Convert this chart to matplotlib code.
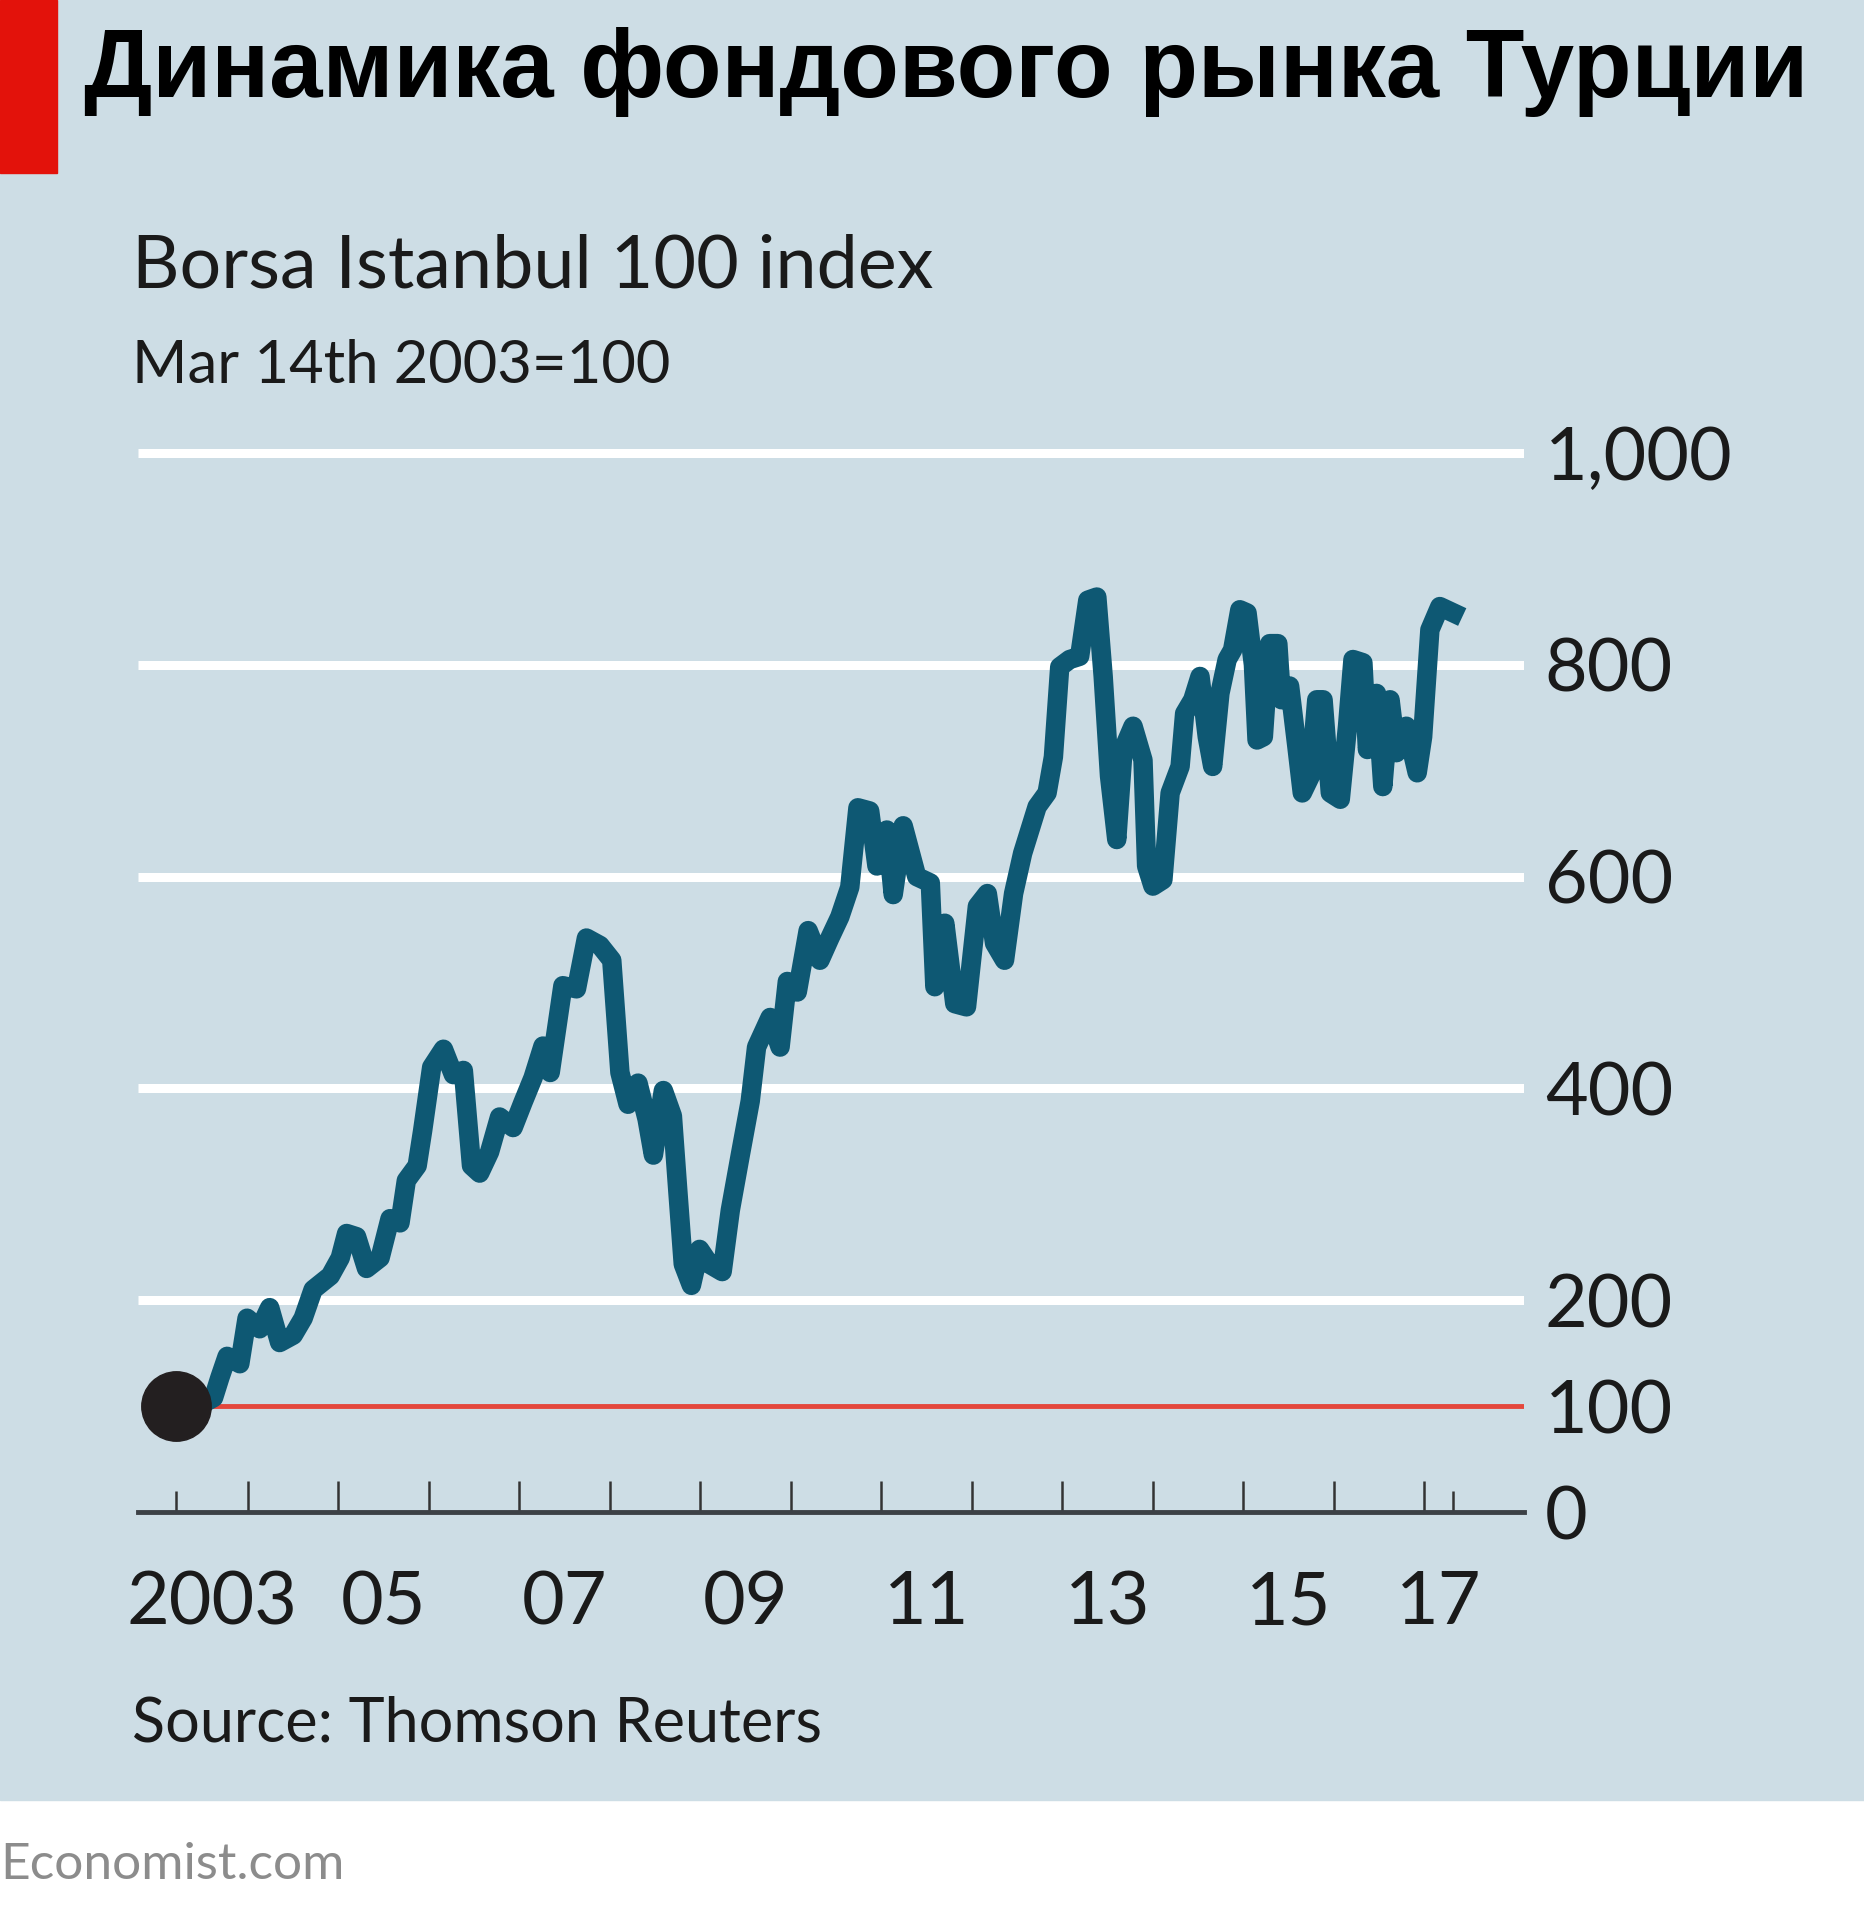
import numpy as np
import matplotlib
matplotlib.use('Agg')
import matplotlib.pyplot as plt
from matplotlib.patches import Rectangle

# Borsa Istanbul 100, Mar 14th 2003 = 100
dates = [2003.21, 2003.45, 2003.62, 2003.69, 2003.77, 2003.91, 2003.99, 2004.13, 2004.24, 2004.35, 2004.50,
         2004.61, 2004.72, 2004.91, 2005.02, 2005.09, 2005.20, 2005.31, 2005.46, 2005.57, 2005.68,
         2005.75, 2005.87, 2005.93, 2006.03, 2006.16, 2006.27, 2006.38, 2006.47, 2006.56, 2006.67,
         2006.78, 2006.93, 2007.04, 2007.15, 2007.26, 2007.34, 2007.48, 2007.63, 2007.74, 2007.89,
         2008.02, 2008.11, 2008.20, 2008.31, 2008.41, 2008.48, 2008.59, 2008.69, 2008.75, 2008.81,
         2008.90, 2008.99, 2009.10, 2009.24, 2009.33, 2009.44, 2009.55, 2009.62, 2009.77, 2009.88,
         2009.96, 2010.07, 2010.19, 2010.32, 2010.43, 2010.54, 2010.65, 2010.74, 2010.87, 2010.95,
         2011.06, 2011.13, 2011.24, 2011.39, 2011.54, 2011.59, 2011.70, 2011.81, 2011.94, 2012.06,
         2012.17, 2012.25, 2012.36, 2012.46, 2012.56, 2012.72, 2012.83, 2012.90, 2012.97, 2013.08,
         2013.19, 2013.28, 2013.38, 2013.45, 2013.52, 2013.60, 2013.67, 2013.78, 2013.89, 2013.93,
         2014.00, 2014.11, 2014.19, 2014.30, 2014.35, 2014.44, 2014.52, 2014.60, 2014.66, 2014.74,
         2014.82, 2014.88, 2014.96, 2015.04, 2015.11, 2015.15, 2015.22, 2015.29, 2015.38, 2015.42,
         2015.51, 2015.59, 2015.65, 2015.74, 2015.81, 2015.88, 2015.96, 2016.07, 2016.15, 2016.21,
         2016.32, 2016.37, 2016.47, 2016.54, 2016.62, 2016.69, 2016.80, 2016.92, 2016.98, 2017.06,
         2017.17, 2017.32]
values = [100, 100, 108, 127, 147, 140, 183, 173, 193, 160, 167,
          183, 210, 223, 240, 263, 260, 230, 240, 277, 273,
          313, 327, 360, 420, 437, 413, 417, 327, 320, 340,
          373, 363, 387, 410, 440, 415, 497, 494, 542, 535,
          521, 415, 385, 405, 371, 337, 398, 374, 303, 234,
          214, 248, 234, 227, 285, 337, 388, 439, 467, 439,
          501, 491, 549, 521, 542, 562, 590, 665, 662, 610,
          644, 583, 648, 600, 594, 496, 556, 480, 477, 572,
          584, 537, 521, 584, 622, 666, 679, 713, 798, 805,
          808, 861, 864, 789, 695, 635, 720, 742, 710, 610,
          591, 597, 679, 704, 754, 767, 789, 732, 704, 773,
          805, 814, 852, 849, 800, 729, 732, 820, 820, 767,
          780, 723, 679, 695, 767, 767, 679, 673, 742, 805,
          802, 720, 773, 685, 767, 717, 742, 698, 732, 833,
          855, 849]

title = 'Динамика фондового рынка Турции'
subtitle = 'Borsa Istanbul 100 index'
note = 'Mar 14th 2003=100'
source = 'Source: Thomson Reuters'
credit = 'Economist.com'

y_ticks = [0, 100, 200, 400, 600, 800, 1000]
y_labels = ['0', '100', '200', '400', '600', '800', '1,000']
grid_levels = [200, 400, 600, 800, 1000]
year_ticks = list(range(2004, 2018))
label_years = [2003, 2005, 2007, 2009, 2011, 2013, 2015, 2017]
year_labels = ['2003', '05', '07', '09', '11', '13', '15', '17']

BG = '#cddde5'
LINE = '#0e5873'
RED = '#e3120b'
FONT = ['Lato', 'DejaVu Sans']
TITLE_FONT = ['Liberation Sans Narrow', 'Liberation Sans', 'DejaVu Sans']

W, H = 1865, 1920
fig = plt.figure(figsize=(W / 100, H / 100), dpi=100)
fig.patch.set_facecolor('white')
fig.add_artist(Rectangle((0, 1 - 1800 / H), 1, 1800 / H, transform=fig.transFigure,
                         color=BG, zorder=0))
fig.add_artist(Rectangle((0, 1 - 173 / H), 57 / W, 173 / H, transform=fig.transFigure,
                         color=RED, zorder=1))

ax = fig.add_axes([138 / W, (H - 1512) / H, (1524 - 138) / W, 1050 * 1.059 / H])
ax.set_facecolor('none')
ax.set_xlim(2002.785, 2018.10)
ax.set_ylim(0, 1050)

for g in grid_levels:
    ax.axhline(g, color='white', lw=6.5, zorder=1, solid_capstyle='butt')
ax.hlines(100, dates[0], 2018.10, color='#e4473c', lw=3.5, zorder=2)
ax.plot(dates, values, color=LINE, lw=14, solid_joinstyle='round', zorder=3)
ax.plot(dates[0], values[0], 'o', ms=50, color='#231f20', zorder=4, clip_on=False)

for s in ['top', 'left', 'right']:
    ax.spines[s].set_visible(False)
ax.spines['bottom'].set_color('#3c4146')
ax.spines['bottom'].set_linewidth(3.5)

ax.set_xticks(year_ticks)
ax.set_xticks([dates[0], dates[-1]], minor=True)
ax.tick_params(axis='x', which='major', direction='in', length=22, width=1.8,
               color='#333333', labelbottom=False)
ax.tick_params(axis='x', which='minor', direction='in', length=15, width=1.8,
               color='#333333', labelbottom=False)

ax.yaxis.tick_right()
ax.set_yticks(y_ticks)
ax.set_yticklabels(y_labels, family=FONT, fontsize=53, color='#1a1a1a')
ax.tick_params(axis='y', length=0, pad=15)

# year labels centred on the span each year covers
for yr, lab in zip(label_years, year_labels):
    lo = max(yr, dates[0])
    hi = min(yr + 1, dates[-1])
    ax.text((lo + hi) / 2, -92 / (1050 * 1.059), lab, transform=ax.get_xaxis_transform(),
            ha='center', va='center', family=FONT, fontsize=53, color='#1a1a1a')

fig.text(84 / W, 1 - 97 / H, title, ha='left', va='baseline', family=TITLE_FONT,
         fontweight='bold', fontsize=69, color='black')
fig.text(132 / W, 1 - 288 / H, subtitle, ha='left', va='baseline', family=FONT,
         fontsize=53, color='#1a1a1a')
fig.text(132 / W, 1 - 383 / H, note, ha='left', va='baseline', family=FONT,
         fontsize=43, color='#1a1a1a')
fig.text(132 / W, 1 - 1741 / H, source, ha='left', va='baseline', family=FONT,
         fontsize=44, color='#1a1a1a')
fig.text(0, 1 - 1865 / H, credit, ha='left', va='center', family=FONT,
         fontsize=37, color='#8c8c8c')

fig.savefig('out.png', dpi=100)
